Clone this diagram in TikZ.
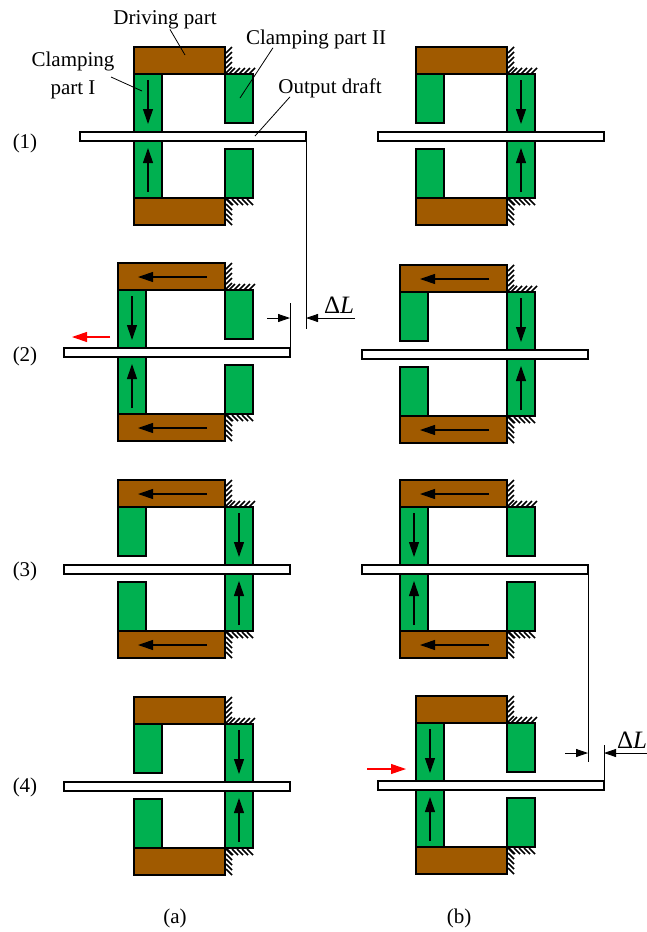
\documentclass[tikz,border=0pt]{standalone}
\usepackage{fontspec}
\setmainfont{Liberation Serif}
\usepackage{amsmath}
\usetikzlibrary{arrows.meta,positioning,calc}
\definecolor{driverbrown}{HTML}{A05A00}
\definecolor{clampgreen}{HTML}{00B050}

\begin{document}
\begin{tikzpicture}[x=1pt,y=-1pt,
    driver/.style={fill=driverbrown,draw=black,line width=1.7pt},
    clamp/.style={fill=clampgreen,draw=black,line width=1.7pt},
    draft/.style={fill=white,draw=black,line width=1.7pt},
    hatch/.style={black,line width=1.5pt},
    motion/.style={-{Stealth[length=15pt,width=10pt,inset=0pt]},line width=1.1pt},
    redmotion/.style={-{Stealth[length=15pt,width=10pt,inset=0pt]},line width=1.1pt,red},
    dimension/.style={-{Stealth[length=12pt,width=8pt,inset=0pt]},line width=0.8pt},
    thinline/.style={line width=0.8pt},
    label/.style={font=\fontsize{21}{25}\selectfont,inner sep=0pt}]
    \useasboundingbox (0,0) rectangle (647,932);

    % Eight units: wall, top, driver left, draft left, left and right clamp length
    \foreach \wall/\yy/\dleft/\sleft/\lh/\rh in {
        225/47/134/80/58/49, 225/263/118/64/58/49, 225/480/118/64/49/58, 225/697/134/64/49/58,
        507/47/416/378/49/58, 507/265/400/362/49/58, 507/480/400/362/58/49, 507/696/416/378/58/49}{
        % Wall hatching
        \foreach \d in {0,5,...,20}{
            \draw[hatch] (\wall+1,\yy+6+\d) -- +(6,-6);
            \draw[hatch] (\wall+1,\yy+152+\d) -- +(6,6);
            \draw[hatch] (\wall+4+\d,\yy+27) -- +(6,-6);
            \draw[hatch] (\wall+2+\d,\yy+152) -- +(6,6);
        }

        % Driving part
        \draw[driver] (\dleft,\yy) rectangle (\wall,\yy+27);
        \draw[driver] (\dleft,\yy+151) rectangle (\wall,\yy+178);

        % Clamping parts
        \draw[clamp] (\dleft,\yy+27) rectangle (\dleft+28,\yy+27+\lh);
        \draw[clamp] (\dleft,\yy+151-\lh) rectangle (\dleft+28,\yy+151);
        \draw[clamp] (\wall,\yy+27) rectangle (\wall+28,\yy+27+\rh);
        \draw[clamp] (\wall,\yy+151-\rh) rectangle (\wall+28,\yy+151);

        % Output draft
        \draw[draft] (\sleft,\yy+85) rectangle (\sleft+226,\yy+94);

        % Motion arrows
        \ifnum\lh=58
            \draw[motion] (\dleft+14,\yy+33) -- (\dleft+14,\yy+77);
            \draw[motion] (\dleft+14,\yy+145) -- (\dleft+14,\yy+101);
        \else
            \draw[motion] (\wall+14,\yy+33) -- (\wall+14,\yy+77);
            \draw[motion] (\wall+14,\yy+145) -- (\wall+14,\yy+101);
        \fi
        \ifnum\numexpr\wall-\dleft\relax>100
            \draw[motion] (\wall-18,\yy+14) -- (\dleft+20,\yy+14);
            \draw[motion] (\wall-18,\yy+165) -- (\dleft+20,\yy+165);
        \fi
    }

    % Labels
    \node[label] (driving) at (165,20) {Driving part};
    \node[label,align=center] (clampone) at (73,75) {Clamping\\[3pt]part I};
    \node[label] (clamptwo) at (316,39) {Clamping part II};
    \node[label] (output) at (330,88) {Output draft};
    \coordinate (drivingtip) at (185,55);
    \coordinate (clamponetip) at (142,91);
    \coordinate (clamptwotip) at (240,98);
    \coordinate (outputtip) at (255,136);
    \draw[thinline] ([xshift=5pt]driving.south) -- (drivingtip);
    \draw[thinline] ([xshift=38pt,yshift=-2pt]clampone.center) -- (clamponetip);
    \draw[thinline] ([xshift=-43pt,yshift=1pt]clamptwo.south) -- (clamptwotip);
    \draw[thinline] ([xshift=-40pt,yshift=1pt]output.south) -- (outputtip);

    \foreach \name/\txt/\yy in {rowone/1/143, rowtwo/2/356, rowthree/3/571, rowfour/4/787}
        \node[label] (\name) at (25,\yy) {(\txt)};
    \node[label] (capa) at (175,918) {(a)};
    \node[label] (capb) at (459,918) {(b)};

    % Dimension for (a)
    \coordinate (extonetop) at (306,141);
    \coordinate (extonebot) at (306,329);
    \coordinate (exttwotop) at (290,303);
    \coordinate (exttwobot) at (290,348);
    \draw[thinline] (extonetop) -- (extonebot);
    \draw[thinline] (exttwotop) -- (exttwobot);
    \coordinate (dimastart) at (267,318);
    \coordinate (dimaend) at (290,318);
    \coordinate (dimbstart) at (355,318);
    \coordinate (dimbend) at (306,318);
    \draw[dimension] (dimastart) -- (dimaend);
    \draw[dimension] (dimbstart) -- (dimbend);
    \node[label,font=\fontsize{25}{28}\selectfont] (deltaa) at (339,305) {Δ\textit{L}};

    % Dimension for (b)
    \coordinate (extthreetop) at (588,574);
    \coordinate (extthreebot) at (588,762);
    \coordinate (extfourtop) at (604,745);
    \coordinate (extfourbot) at (604,782);
    \draw[thinline] (extthreetop) -- (extthreebot);
    \draw[thinline] (extfourtop) -- (extfourbot);
    \coordinate (dimcstart) at (565,753);
    \coordinate (dimcend) at (588,753);
    \coordinate (dimdstart) at (647,753);
    \coordinate (dimdend) at (604,753);
    \draw[dimension] (dimcstart) -- (dimcend);
    \draw[dimension] (dimdstart) -- (dimdend);
    \node[label,font=\fontsize{25}{28}\selectfont] (deltab) at (632,740) {Δ\textit{L}};

    % Red arrows
    \coordinate (redastart) at (110,337);
    \coordinate (redaend) at (72,337);
    \coordinate (redbstart) at (367,769);
    \coordinate (redbend) at (406,769);
    \draw[redmotion] (redastart) -- (redaend);
    \draw[redmotion] (redbstart) -- (redbend);
\end{tikzpicture}
\end{document}
